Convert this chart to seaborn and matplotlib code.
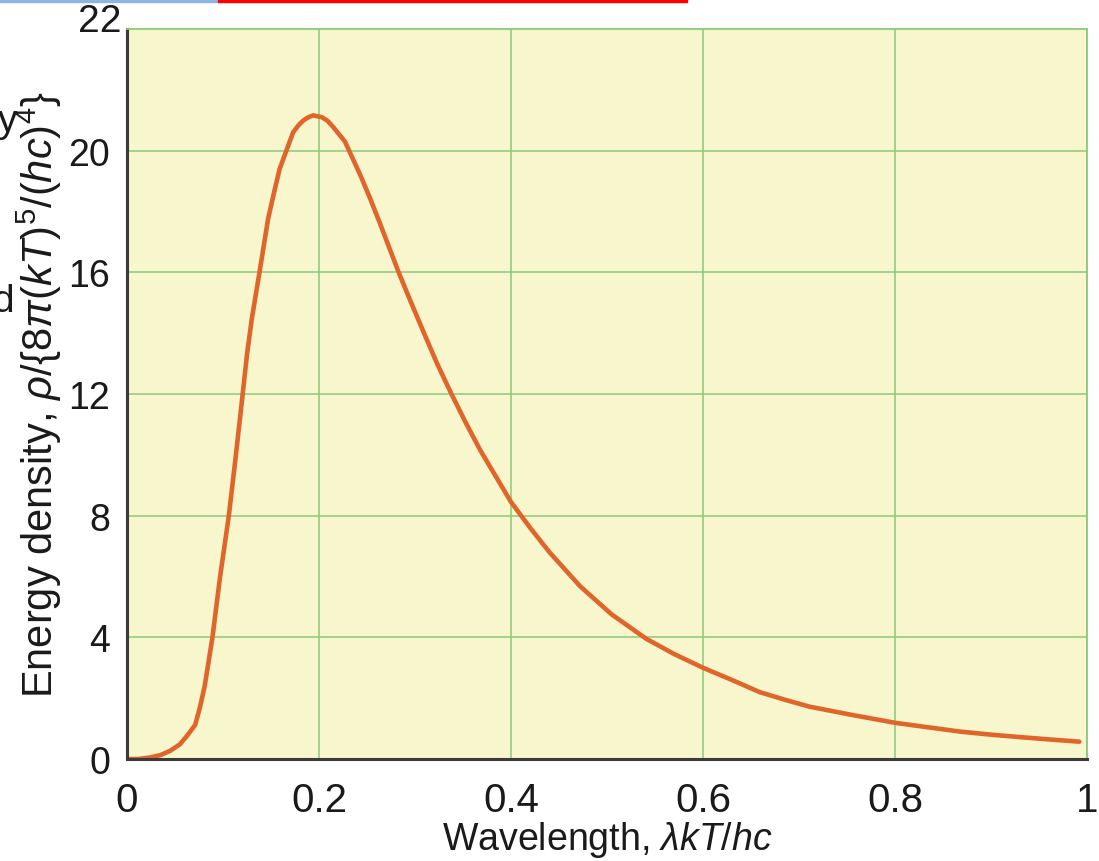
import matplotlib
matplotlib.use('Agg')
import matplotlib.pyplot as plt
from matplotlib.patches import Rectangle
import seaborn as sns

# Planck curve
wavelength = [0.0, 0.012, 0.024, 0.035, 0.045, 0.055, 0.063, 0.071, 0.076, 0.081,
              0.085, 0.089, 0.097, 0.106, 0.112, 0.117, 0.1205, 0.125, 0.130, 0.138,
              0.147, 0.153, 0.159, 0.166, 0.173, 0.179, 0.184, 0.189, 0.194, 0.203,
              0.209, 0.215, 0.227, 0.243, 0.253, 0.263, 0.283, 0.296, 0.309, 0.323,
              0.338, 0.353, 0.368, 0.384, 0.400, 0.420, 0.440, 0.472, 0.505, 0.541,
              0.570, 0.600, 0.630, 0.659, 0.685, 0.711, 0.755, 0.800, 0.835, 0.868,
              0.900, 0.930, 0.962, 0.992]
energy = [0.0, 0.0, 0.05, 0.13, 0.27, 0.48, 0.78, 1.12, 1.7, 2.41,
          3.2, 4.0, 6.0, 7.98, 9.6, 11.0, 12.0, 13.3, 14.47, 16.0,
          17.76, 18.6, 19.4, 20.0, 20.6, 20.85, 21.0, 21.1, 21.16, 21.1,
          20.98, 20.77, 20.3, 19.2, 18.45, 17.65, 16.0, 15.0, 14.03, 13.0,
          12.0, 11.05, 10.15, 9.3, 8.45, 7.6, 6.8, 5.68, 4.75, 3.95,
          3.45, 3.0, 2.6, 2.2, 1.95, 1.72, 1.45, 1.19, 1.04, 0.9,
          0.8, 0.72, 0.64, 0.57]

x_ticks = [0, 0.2, 0.4, 0.6, 0.8, 1]
x_tick_labels = ['0', '0.2', '0.4', '0.6', '0.8', '1']
y_ticks = [0, 4, 8, 12, 16, 20]
y_tick_labels = ['0', '4', '8', '12', '16', '20']

sns.set_style('white')
plt.rcParams['font.family'] = ['Liberation Sans', 'DejaVu Sans']
plt.rcParams['mathtext.fontset'] = 'custom'
plt.rcParams['mathtext.rm'] = 'Liberation Sans'
plt.rcParams['mathtext.it'] = 'Liberation Sans:italic'

grid_green = '#8cc97a'
ink = '#1a1a1a'

fig = plt.figure(figsize=(10.99, 8.62), dpi=100)
ax = fig.add_axes([127 / 1099, 102 / 862, 960 / 1099, 730 / 862])
ax.set_facecolor('#f8f6cc')

sns.lineplot(x=wavelength, y=energy, ax=ax, color='#e0652a', linewidth=3.3)

ax.set_xlim(0, 1)
ax.set_ylim(0, 24)
ax.set_xticks(x_ticks)
ax.set_xticklabels(x_tick_labels, fontsize=29, color=ink)
ax.set_yticks(y_ticks)
ax.set_yticklabels(y_tick_labels, fontsize=27, color=ink)
ax.tick_params(axis='x', length=0, pad=16)
ax.tick_params(axis='y', length=0, pad=12)

ax.grid(True, color=grid_green, linewidth=1.1)
ax.set_axisbelow(True)

for side in ['top', 'right']:
    ax.spines[side].set_color(grid_green)
    ax.spines[side].set_linewidth(1.3)
for side in ['left', 'bottom']:
    ax.spines[side].set_color('#3a3a3a')
    ax.spines[side].set_linewidth(2.2)

ax.set_xlabel(r'Wavelength, $\lambda kT/hc$', fontsize=27, color=ink, va='top')
ax.xaxis.set_label_coords(0.5, -0.082)
ax.set_ylabel(r'Energy density, $\rho$/{8$\pi$($kT$)$^5$/($hc$)$^4$}',
              fontsize=30, color=ink)
ax.yaxis.set_label_coords(-0.066, 0.5)

# the stray "22" label at the top corner
fig.text(100 / 1099, 1 - 22 / 862, '22', fontsize=28, color=ink,
         ha='center', va='center')

# cropped remnants along the left and top edges
fig.text(17 / 1099, 1 - 122 / 862, 'y', fontsize=28, color=ink,
         ha='right', va='center')
fig.text(14 / 1099, 1 - 302 / 862, 'd', fontsize=28, color=ink,
         ha='right', va='center')
fig.patches.append(Rectangle((0, 1 - 3 / 862), 218 / 1099, 3 / 862,
                             transform=fig.transFigure, color='#8db4e2'))
fig.patches.append(Rectangle((218 / 1099, 1 - 3 / 862), 469 / 1099, 3 / 862,
                             transform=fig.transFigure, color='#ff0000'))

fig.savefig('out.png', dpi=100)
